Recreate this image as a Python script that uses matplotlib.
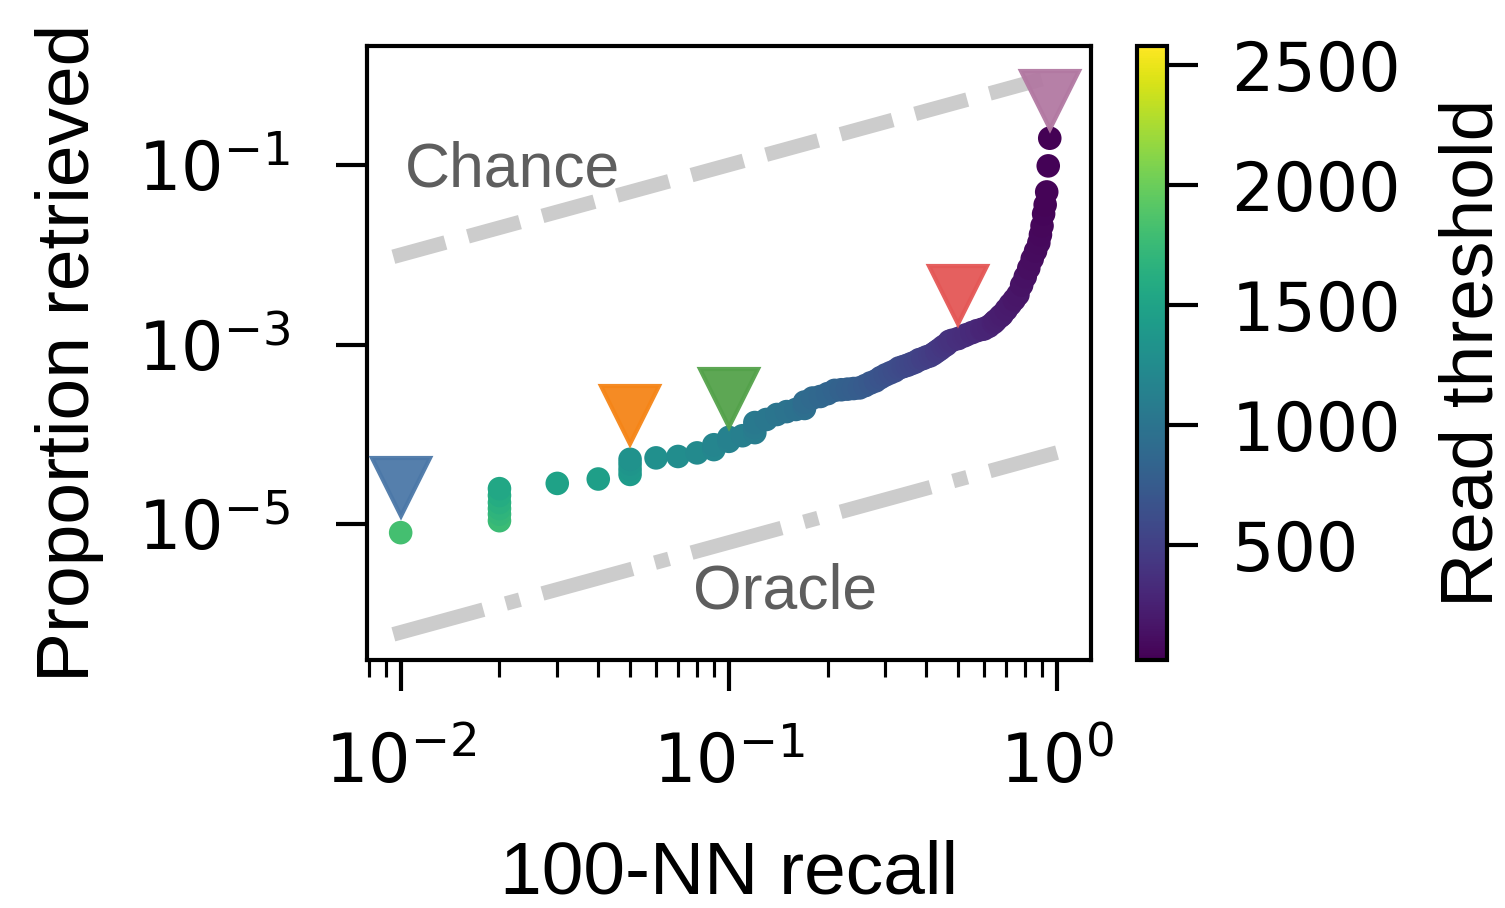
import matplotlib
matplotlib.use('Agg')
import matplotlib.pyplot as plt
import matplotlib.ticker as ticker
import numpy as np

## DATA
recall = [0.01,
          0.02, 0.02, 0.02, 0.02, 0.02, 0.02,
          0.03, 0.04,
          0.05, 0.05, 0.05, 0.05,
          0.06, 0.07, 0.08,
          0.09, 0.09,
          0.10, 0.10,
          0.11,
          0.12, 0.12, 0.12,
          0.13, 0.14, 0.15, 0.16,
          0.17, 0.17, 0.17,
          0.18, 0.19, 0.20, 0.21, 0.22, 0.23, 0.24, 0.25, 0.26, 0.27,
          0.28, 0.29, 0.30, 0.31, 0.32, 0.33, 0.34, 0.35, 0.36, 0.37,
          0.38, 0.39, 0.40, 0.41, 0.42, 0.43, 0.44, 0.45, 0.46, 0.47,
          0.48, 0.50, 0.52, 0.53, 0.55, 0.57, 0.59, 0.60, 0.62, 0.64,
          0.65, 0.67, 0.68, 0.70, 0.72, 0.74, 0.76, 0.78, 0.80, 0.82,
          0.84, 0.86, 0.88, 0.89, 0.90, 0.91, 0.92, 0.93, 0.94, 0.95]

proportion = [8.1e-6,
              1.1e-5, 1.3e-5, 1.5e-5, 1.75e-5, 2.1e-5, 2.5e-5,
              2.86e-5, 3.2e-5,
              3.6e-5, 4.1e-5, 4.7e-5, 5.3e-5,
              5.5e-5, 5.7e-5, 6.25e-5,
              6.8e-5, 7.7e-5,
              8.4e-5, 9.3e-5,
              9.7e-5,
              1.05e-4, 1.2e-4, 1.36e-4,
              1.47e-4, 1.67e-4, 1.8e-4, 1.9e-4,
              1.95e-4, 2.1e-4, 2.3e-4,
              2.55e-4, 2.65e-4, 2.85e-4, 3.1e-4, 3.15e-4, 3.2e-4, 3.25e-4, 3.3e-4, 3.5e-4, 3.75e-4,
              3.95e-4, 4.3e-4, 4.6e-4, 4.85e-4, 5.1e-4, 5.5e-4, 5.7e-4, 5.9e-4, 6.15e-4, 6.4e-4,
              6.8e-4, 7.0e-4, 7.3e-4, 7.5e-4, 7.9e-4, 8.4e-4, 8.9e-4, 9.5e-4, 1.0e-3, 1.09e-3,
              1.12e-3, 1.17e-3, 1.25e-3, 1.29e-3, 1.36e-3, 1.43e-3, 1.48e-3, 1.5e-3, 1.6e-3, 1.75e-3,
              1.85e-3, 2.05e-3, 2.15e-3, 2.45e-3, 2.8e-3, 3.16e-3, 3.6e-3, 4.6e-3, 5.7e-3, 7.1e-3,
              9.0e-3, 1.1e-2, 1.36e-2, 1.67e-2, 2.1e-2, 2.85e-2, 3.6e-2, 5.0e-2, 9.75e-2, 0.198]

threshold = [1810,
             1760, 1720, 1680, 1640, 1590, 1540,
             1490, 1450,
             1410, 1380, 1350, 1320,
             1290, 1260, 1230,
             1200, 1180,
             1150, 1130,
             1110,
             1090, 1070, 1050,
             1030, 1010, 990, 970,
             950, 930, 910,
             890, 870, 850, 830, 810, 795, 780, 765, 745, 725,
             705, 685, 665, 645, 625, 605, 590, 575, 560, 545,
             530, 515, 500, 485, 470, 455, 440, 425, 410, 395,
             385, 365, 350, 340, 325, 310, 295, 285, 270, 255,
             245, 230, 220, 205, 190, 175, 160, 145, 130, 115,
             100, 90, 80, 70, 60, 50, 45, 40, 30, 20]

# highlighted operating points (triangles)
mark_recall = [0.01, 0.05, 0.10, 0.50, 0.95]
mark_prop = [2.6e-5, 1.63e-4, 2.58e-4, 3.6e-3, 0.527]
mark_colors = ['#4c78a8', '#f58518', '#54a24b', '#e45756', '#b279a2']

# reference lines
ref_x = [0.0095, 1.0]
chance_y = [0.0095, 1.0]
oracle_y = [0.0095 * 6.3e-5, 6.3e-5]

LABEL_FONT = 'Liberation Sans'

plt.rcParams['font.family'] = ['DejaVu Sans']
plt.rcParams['axes.linewidth'] = 1.0

fig = plt.figure(figsize=(1505 / 300, 908 / 300), dpi=300)
ax = fig.add_axes([0.2439, 0.2731, 0.4811, 0.6762])
cax = fig.add_axes([0.7555, 0.2731, 0.0199, 0.6762])

ax.plot(ref_x, chance_y, color='#cccccc', lw=3.5, ls='--', zorder=1)
ax.plot(ref_x, oracle_y, color='#cccccc', lw=3.5, ls='-.', zorder=1)

sc = ax.scatter(recall, proportion, c=threshold, cmap='viridis', vmin=20, vmax=2580,
                s=32, linewidths=0, zorder=2)

for mx, my, mc in zip(mark_recall, mark_prop, mark_colors):
    ax.plot(mx, my, marker='v', markersize=14, color=mc, alpha=0.95, ls='none', zorder=3)

ax.text(0.01028, 0.057, 'Chance', color='#5e5e5e', fontsize=15, family=LABEL_FONT,
        ha='left', va='baseline')
ax.text(0.0775, 1.17e-6, 'Oracle', color='#5e5e5e', fontsize=15, family=LABEL_FONT,
        ha='left', va='baseline')

ax.set_xscale('log')
ax.set_yscale('log')
ax.set_xlim(0.0079, 1.27)
ax.set_ylim(3.1e-7, 2.1)

ax.xaxis.set_major_locator(ticker.FixedLocator([1e-2, 1e-1, 1e0]))
ax.xaxis.set_minor_locator(ticker.LogLocator(base=10, subs=np.arange(2, 10), numticks=20))
ax.xaxis.set_minor_formatter(ticker.NullFormatter())
ax.yaxis.set_major_locator(ticker.FixedLocator([1e-5, 1e-3, 1e-1]))
ax.yaxis.set_minor_locator(ticker.NullLocator())

ax.tick_params(which='major', length=7.5, width=1.0, labelsize=16)
ax.tick_params(axis='x', which='major', pad=9.5)
ax.tick_params(axis='y', which='major', pad=11)
ax.tick_params(which='minor', length=4, width=0.75)

ax.set_xlabel('100-NN recall', fontsize=18, family=LABEL_FONT, labelpad=10)
ax.set_ylabel('Proportion retrieved', fontsize=18, family=LABEL_FONT, labelpad=8)

cb = fig.colorbar(sc, cax=cax)
cb.set_ticks([500, 1000, 1500, 2000, 2500])
cb.outline.set_linewidth(1.0)
cb.ax.tick_params(length=7.5, width=1.0, labelsize=16, pad=8)
cb.set_label('Read threshold', fontsize=18, family=LABEL_FONT, labelpad=9)

plt.savefig('out.png', dpi=300)
